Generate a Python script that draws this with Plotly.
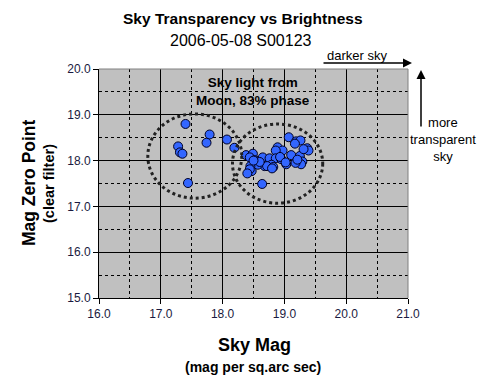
import plotly.graph_objects as go

sky_mag = [17.40, 17.79, 17.74, 17.28, 17.31, 17.35, 17.44, 18.07, 18.19,
           19.07, 19.19, 19.26, 19.17, 19.37, 19.39, 18.89, 18.97, 18.86,
           18.38, 18.49, 18.44, 18.52, 18.56, 18.65, 18.76, 18.86, 18.95,
           19.11, 19.25, 19.29, 19.27, 19.03, 18.79, 18.68, 18.57, 18.45,
           18.47, 18.44, 18.64, 18.72, 18.82, 19.18, 19.31, 18.93, 18.60,
           18.50, 19.21, 18.80, 18.40, 19.02]
zero_point = [18.80, 18.57, 18.39, 18.31, 18.18, 18.15, 17.51, 18.46, 18.28,
              18.51, 18.42, 18.44, 18.37, 18.27, 18.22, 18.29, 18.22, 18.22,
              18.12, 18.15, 18.07, 18.01, 17.98, 18.07, 18.05, 18.05, 18.03,
              18.12, 18.10, 17.98, 17.92, 17.92, 17.91, 17.88, 17.91, 17.88,
              17.77, 17.81, 17.49, 17.88, 17.86, 17.95, 18.25, 18.08, 17.97,
              18.00, 18.02, 17.83, 17.72, 17.96]

x_ticks = [16.0, 17.0, 18.0, 19.0, 20.0, 21.0]
y_ticks = [15.0, 16.0, 17.0, 18.0, 19.0, 20.0]

OFF = 8  # page body margin offset

fig = go.Figure()
fig.add_trace(go.Scatter(
    x=sky_mag, y=zero_point, mode="markers",
    marker=dict(symbol="circle", size=9, color="#3366ff",
                line=dict(color="#000022", width=1)),
    showlegend=False, cliponaxis=False))

for (x0, x1, y0, y1) in [(16.79, 18.31, 17.18, 19.02), (18.16, 19.62, 17.07, 18.80)]:
    fig.add_shape(type="circle", xref="x", yref="y", x0=x0, x1=x1, y0=y0, y1=y1,
                  line=dict(color="#222222", width=3, dash="dot"))

# gray top/right frame
fig.add_shape(type="line", xref="paper", yref="paper", x0=0, x1=1, y0=1, y1=1,
              line=dict(color="#808080", width=1))
fig.add_shape(type="line", xref="paper", yref="paper", x0=1, x1=1, y0=0, y1=1,
              line=dict(color="#808080", width=1))

font = "Arial, Liberation Sans"
axis_common = dict(
    showline=True, linecolor="#000000", linewidth=1, mirror=False,
    ticks="outside", ticklen=5, tickcolor="#000000",
    showgrid=True, gridcolor="#000000", gridwidth=1,
    minor=dict(dtick=0.5, showgrid=True, gridcolor="#000000", griddash="3px,3px",
               gridwidth=1),
    tickfont=dict(family=font, size=12, color="#1a1a40"),
    tickformat=".1f", zeroline=False,
)
fig.update_xaxes(range=[16, 21], tickvals=x_ticks, **axis_common)
fig.update_yaxes(range=[15, 20], tickvals=y_ticks, **axis_common)

L, R, T, B = 99, 408, 69, 298


def px(x, y):
    return ((x - L) / (R - L), (B - y) / (B - T))


items = [
    (243, 18, "<b>Sky Transparency vs Brightness</b>", 15.5, 0),
    (241, 41, "2006-05-08 S00123", 16, 0),
    (254, 345, "<b>Sky Mag</b>", 18, 0),
    (253, 367, "<b>(mag per sq.arc sec)</b>", 14, 0),
    (29, 183, "<b>Mag Zero Point</b>", 17.5, -90),
    (49, 184, "<b>(clear filter)</b>", 14.5, -90),
    (253, 91, "<b>Sky light from<br>Moon, 83% phase</b>", 13.5, 0),
    (357, 56, "darker sky", 13, 0),
    (443, 139, "more<br>transparent<br>sky", 13, 0),
]
for x, y, text, size, angle in items:
    xp, yp = px(x, y)
    fig.add_annotation(x=xp, y=yp, xref="paper", yref="paper", text=text,
                       showarrow=False, textangle=angle,
                       font=dict(family=font, size=size, color="#000000"),
                       xanchor="center", yanchor="middle")

# arrows (head position in paper coords, tail as pixel offset)
for (x0, y0, x1, y1) in [(322, 63, 412, 63), (421, 128, 421, 70)]:
    hx, hy = px(x1, y1)
    fig.add_annotation(x=hx, y=hy, ax=x0 - x1, ay=y0 - y1, xref="paper", yref="paper",
                       axref="pixel", ayref="pixel", text="", showarrow=True,
                       arrowhead=2, arrowsize=1.2, arrowwidth=1.5, arrowcolor="#000000")

fig.update_layout(
    width=487, height=390,
    margin=dict(l=L - OFF, r=487 - (R - OFF), t=T - OFF, b=390 - (B - OFF)),
    paper_bgcolor="#ffffff", plot_bgcolor="#c0c0c0",
    showlegend=False,
)

fig.write_html("out.html")
